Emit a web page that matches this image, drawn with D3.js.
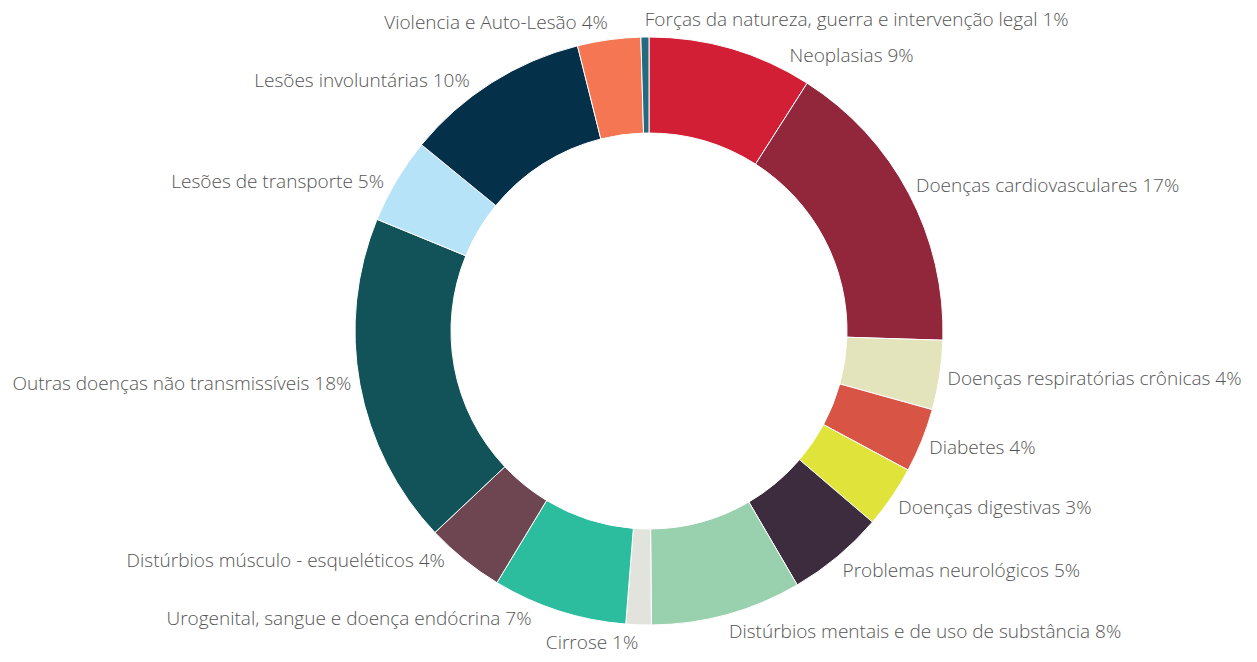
<!DOCTYPE html>
<html>
<head>
<meta charset="utf-8">
<script src="https://cdn.jsdelivr.net/npm/d3@7"></script>
<style>
  body { margin: 0; background: #fff; }
  #chart text { font-family: "Open Sans", Lato, sans-serif; font-weight: 300; fill: #555; }
</style>
</head>
<body>
<div id="chart"></div>
<script>
// Chart data (labels as printed)
var categories = [
  "Neoplasias",
  "Doenças cardiovasculares",
  "Doenças respiratórias crônicas",
  "Diabetes",
  "Doenças digestivas",
  "Problemas neurológicos",
  "Distúrbios mentais e de uso de substância",
  "Cirrose",
  "Urogenital, sangue e doença endócrina",
  "Distúrbios músculo - esqueléticos",
  "Outras doenças não transmissíveis",
  "Lesões de transporte",
  "Lesões involuntárias",
  "Violencia e Auto-Lesão",
  "Forças da natureza, guerra e intervenção legal"
];
var values = [9.04, 16.46, 3.81, 3.53, 3.42, 5.33, 8.28, 1.39, 7.39, 4.33, 18.22, 4.72, 10.17, 3.47, 0.44];
var pctLabels = ["9%", "17%", "4%", "4%", "3%", "5%", "8%", "1%", "7%", "4%", "18%", "5%", "10%", "4%", "1%"];
var colors = ["#d21f35", "#92263a", "#e3e4bc", "#d85444", "#e0e33a", "#3d2b3e", "#99d0ae", "#e3e3dd",
              "#2cbd9e", "#6d4651", "#115359", "#b6e3f8", "#05304a", "#f47653", "#246a80"];

var width = 1257, height = 662;
var cx = 649, cy = 331;
var outerR = 294, innerR = 198, labelR = 302;
var fontSize = 19;

var svg = d3.select("#chart").append("svg")
  .attr("width", width)
  .attr("height", height);

var g = svg.append("g")
  .attr("transform", "translate(" + cx + "," + cy + ")");

var pie = d3.pie().sort(null).value(function(d) { return d; });
var arcs = pie(values);

var arc = d3.arc().innerRadius(innerR).outerRadius(outerR);

g.selectAll("path.slice")
  .data(arcs)
  .enter()
  .append("path")
  .attr("class", "slice")
  .attr("d", arc)
  .attr("fill", function(d, i) { return colors[i]; })
  .attr("stroke", "#fff")
  .attr("stroke-width", 1);

// Labels: just outside the ring near the mid angle, slid along the circle if they overlap
var labels = g.selectAll("text.label")
  .data(arcs)
  .enter()
  .append("text")
  .attr("class", "label")
  .style("font-size", fontSize + "px")
  .attr("dy", "0.35em")
  .text(function(d, i) { return categories[i] + " " + pctLabels[i]; });

var placed = [];

function placeLabel(node, a) {
  var px = labelR * Math.sin(a);
  var py = -labelR * Math.cos(a);
  var anchor = px > -6 ? "start" : "end";
  var w = node.getComputedTextLength();
  var h = fontSize;
  var y = py - (h / 2) * Math.cos(a);
  return { x: px, y: y, anchor: anchor,
           x0: anchor === "start" ? px : px - w,
           x1: anchor === "start" ? px + w : px,
           y0: y - h / 2, y1: y + h / 2 };
}

function overlaps(b) {
  return placed.some(function(p) {
    return b.x0 < p.x1 && b.x1 > p.x0 && b.y0 < p.y1 + 16 && b.y1 > p.y0 - 16;
  });
}

var west = 1.5 * Math.PI;
var order = d3.range(arcs.length).reverse();
order.forEach(function(i) {
  var d = arcs[i];
  var node = labels.nodes()[i];
  var a = (d.startAngle + d.endAngle) / 2;
  // left-hand labels lean a little toward 9 o'clock (not the ones near vertical)
  if (a > Math.PI * 1.05 && a < Math.PI * 1.95) a = west + (a - west) * 0.93;
  var box = placeLabel(node, a);
  // slide toward the nearest horizontal (3 or 9 o'clock)
  var step = Math.sin(a) * Math.cos(a) >= 0 ? 0.01 : -0.01;
  var tries = 0;
  while (overlaps(box) && tries < 100) {
    a += step;
    box = placeLabel(node, a);
    tries++;
  }
  placed.push(box);
  d3.select(node)
    .attr("x", box.x)
    .attr("y", box.y)
    .attr("text-anchor", box.anchor);
});
</script>
</body>
</html>
